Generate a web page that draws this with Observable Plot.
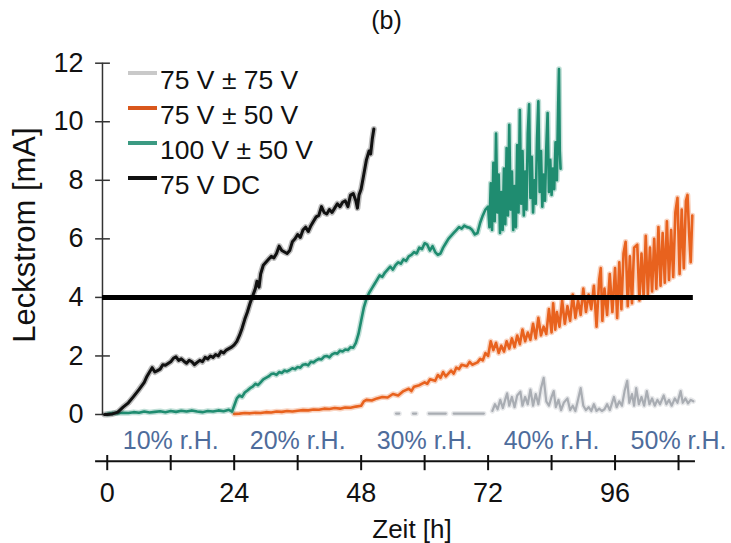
<!DOCTYPE html>
<html><head><meta charset="utf-8">
<script src="https://cdn.jsdelivr.net/npm/d3@7"></script>
<script src="https://cdn.jsdelivr.net/npm/@observablehq/plot@0.6"></script>
<style>body{margin:0;background:#fff} #chart{width:731px;height:543px;}</style>
</head><body><div id="chart"></div>
<script>
// ---- data ----
const title = "(b)";
const yLabel = "Leckstrom [mA]";
const xLabel = "Zeit [h]";
const seriesNames = ["75 V ± 75 V", "75 V ± 50 V", "100 V ± 50 V", "75 V DC"];
const seriesColors = ["#a9adb3", "#e8621e", "#1f8c70", "#111111"];
const legendColors = ["#c9c9c9", "#d9571c", "#3b9a82", "#111111"];
const yTicks = [0, 2, 4, 6, 8, 10, 12];
const xTicks = [0, 12, 24, 36, 48, 60, 72, 84, 96, 108];
const xTickLabels = [0, 24, 48, 72, 96];
const rhLabels = ["10% r.H.", "20% r.H.", "30% r.H.", "40% r.H.", "50% r.H."];
const rhCenters = [12, 36, 60, 84, 108];
const threshold = [4];

// 75 V DC  [t (h), I (mA)]
const dc75 = [[-0.5,0],[0,0],[1,0.02],[2,0.08],[3,0.25],[4,0.4],[5,0.62],[6,0.85],[7,1.1],[7.5,1.3],[8,1.45],[8.5,1.6],[9,1.45],[9.5,1.5],[10,1.55],[10.5,1.7],[11,1.68],[12,1.8],[12.5,1.92],[13,1.97],[13.5,1.85],[14,1.9],[14.5,1.82],[15,1.75],[15.5,1.85],[16,1.8],[16.5,1.7],[17,1.78],[17.5,1.85],[18,1.8],[18.5,1.95],[19,1.9],[19.5,2.0],[20,1.95],[20.5,2.05],[21,2.0],[21.5,2.15],[22,2.1],[22.5,2.2],[23,2.25],[23.5,2.3],[24,2.38],[24.5,2.5],[25,2.7],[25.5,2.95],[26,3.25],[26.5,3.5],[27,3.8],[27.5,4.05],[28,4.3],[28.3,4.55],[28.7,4.35],[29,4.8],[29.5,5.1],[30,5.2],[30.5,5.3],[31,5.4],[31.5,5.35],[32,5.5],[32.5,5.75],[33,5.6],[33.5,5.55],[34,5.5],[34.5,5.6],[35,5.9],[35.5,6.0],[36,6.15],[36.5,6.05],[37,6.3],[37.5,6.4],[38,6.25],[38.5,6.45],[39,6.6],[39.5,6.75],[40,6.8],[40.5,7.1],[41,6.9],[41.5,6.85],[42,7.0],[42.5,6.9],[43,7.05],[43.5,7.2],[44,7.1],[44.5,7.25],[45,7.3],[45.5,7.1],[46,7.5],[46.5,7.55],[47,7.3],[47.3,7.05],[47.6,7.5],[48,7.7],[48.5,8.2],[49,8.7],[49.5,9.0],[49.8,8.9],[50.1,9.4],[50.4,9.75]];

// 100 V ± 50 V
const ac100_50 = [[0,0.02],[1,0.05],[2,0.04],[3,0.06],[4,0.05],[5,0.08],[6,0.06],[7,0.1],[8,0.07],[9,0.09],[10,0.11],[11,0.08],[12,0.12],[13,0.09],[14,0.13],[15,0.1],[16,0.14],[17,0.1],[18,0.08],[19,0.12],[20,0.1],[21,0.14],[22,0.11],[23,0.16],[23.6,0.1],[24,0.3],[24.5,0.55],[25,0.65],[25.5,0.6],[26,0.75],[26.5,0.82],[27,0.9],[27.5,0.95],[28,1.05],[28.5,1.0],[29,1.1],[29.5,1.2],[30,1.25],[30.5,1.3],[31,1.38],[31.5,1.4],[32,1.35],[32.5,1.45],[33,1.42],[33.5,1.5],[34,1.47],[34.5,1.52],[35,1.58],[35.5,1.55],[36,1.62],[36.5,1.6],[37,1.7],[37.5,1.72],[38,1.68],[38.5,1.8],[39,1.78],[39.5,1.85],[40,1.9],[40.5,1.88],[41,1.98],[41.5,2.0],[42,1.95],[42.5,2.05],[43,2.1],[43.5,2.08],[44,2.18],[44.5,2.15],[45,2.22],[45.5,2.2],[46,2.3],[46.5,2.28],[47,2.45],[47.5,2.75],[48,3.2],[48.5,3.65],[49,3.95],[49.5,4.15],[50,4.3],[50.5,4.45],[51,4.6],[51.5,4.75],[52,4.7],[52.5,4.85],[53,4.95],[53.5,5.05],[54,4.95],[54.5,5.1],[55,5.2],[55.5,5.15],[56,5.3],[56.5,5.25],[57,5.4],[57.5,5.45],[58,5.55],[58.5,5.5],[59,5.7],[59.5,5.65],[60,5.85],[60.5,5.8],[61,5.6],[61.5,5.75],[62,5.55],[62.5,5.45],[63,5.5],[63.5,5.7],[64,5.85],[64.5,6.0],[65,6.1],[65.5,6.2],[66,6.3],[66.5,6.4],[67,6.35],[67.5,6.45],[68,6.4],[68.5,6.38],[69,6.3],[69.5,6.15],[70,6.2],[70.5,6.55],[71,6.8],[71.5,7.0],
[72,7.1],[72.25,6.4],[72.5,7.9],[72.75,6.3],[73,8.6],[73.25,6.6],[73.5,9.6],[73.75,6.9],[74,8.2],[74.25,6.2],[74.5,7.6],[74.75,6.3],[75,8.4],[75.25,6.5],[75.5,9.1],[75.75,6.8],[76,9.9],[76.25,7.0],[76.5,8.3],[76.75,6.3],[77,7.8],[77.25,6.4],[77.5,9.2],[77.75,6.9],[78,10.4],[78.25,7.2],[78.5,9.0],[78.75,6.8],[79,8.3],[79.25,7.0],[79.5,9.6],[79.75,10.6],[80,7.4],[80.25,8.8],[80.5,6.9],[80.75,8.0],[81,7.2],[81.25,9.4],[81.5,10.7],[81.75,7.6],[82,9.0],[82.25,7.1],[82.5,8.2],[82.75,7.3],[83,9.1],[83.25,10.3],[83.5,7.6],[83.75,8.7],[84,7.5],[84.25,8.4],[84.5,7.7],[84.75,9.3],[85,8.0],[85.25,10.6],[85.4,11.8],[85.55,9.0],[85.7,8.4]];

// 75 V ± 50 V
const ac75_50 = [[24,0.02],[25,0.03],[26,0.05],[27,0.04],[28,0.06],[29,0.05],[30,0.08],[31,0.07],[32,0.1],[33,0.09],[34,0.12],[35,0.1],[36,0.13],[37,0.15],[38,0.14],[39,0.17],[40,0.16],[41,0.2],[42,0.19],[43,0.22],[44,0.2],[45,0.24],[46,0.23],[47,0.27],[48,0.3],[48.5,0.45],[49,0.5],[50,0.48],[51,0.55],[52,0.6],[53,0.58],[54,0.7],[55,0.65],[56,0.8],[57,0.88],[57.5,0.8],[58,0.95],[59,1.0],[60,1.1],[60.5,1.05],[61,1.2],[62,1.15],[62.5,1.35],[63,1.25],[63.5,1.45],[64,1.3],[65,1.5],[65.5,1.4],[66,1.6],[66.5,1.55],[67,1.7],[68,1.65],[68.5,1.8],[69,1.7],[70,1.78],[70.5,1.9],[71,1.85],[71.5,2.1],[72,2.0],[72.5,2.5],[73,2.2],[73.5,2.45],[74,2.1],[74.5,2.35],[75,2.15],[75.5,2.5],[76,2.25],[76.5,2.6],[77,2.3],[77.5,2.7],[78,2.4],[78.5,2.9],[79,2.5],[79.5,2.8],[80,2.55],[80.5,3.1],[81,2.6],[81.5,3.3],[82,2.7],[82.5,3.0],[83,2.75],[83.5,3.6],[84,2.8],[84.3,3.8],[84.7,2.9],[85,3.5],[85.5,3.0],[86,3.9],[86.5,3.1],[87,3.7],[87.5,3.2],[88,4.1],[88.5,3.3],[89,3.9],[89.5,3.4],[90,4.3],[90.5,3.5],[91,4.1],[91.5,3.6],[92,4.4],[92.5,3.0],[93,4.6],[93.3,5.0],[93.6,3.2],[94,4.3],[94.5,3.4],[95,4.8],[95.5,3.5],[96,5.0],[96.4,3.3],[96.8,5.2],[97.2,3.6],[97.6,5.5],[98,5.9],[98.4,3.7],[98.8,5.4],[99.2,3.8],[99.6,5.7],[100.2,5.8],[100.6,3.9],[101,5.5],[101.4,4.0],[101.8,6.1],[102.2,4.1],[102.6,5.7],[103,4.2],[103.4,6.0],[103.8,4.3],[104.2,6.4],[104.6,4.4],[105,6.2],[105.4,4.5],[105.8,6.6],[106.2,4.6],[106.6,6.3],[107,4.7],[107.4,6.9],[107.8,7.4],[108.2,4.8],[108.6,7.0],[109,5.0],[109.4,7.3],[109.7,7.5],[110,6.2],[110.3,5.2],[110.6,6.8]];

// 75 V ± 75 V (NaN = gap between the short dashes)
const ac75_75 = [[54.6,0.03],[55.2,0.03],[55.5,NaN],[57.8,0.03],[58.4,0.03],[58.7,NaN],[60.8,0.03],[64,0.03],[64.5,NaN],[65.5,0.03],[71.2,0.03],[71.8,NaN],
[72.8,0.12],[73.3,0.35],[73.8,0.18],[74.3,0.5],[74.8,0.22],[75.3,0.55],[75.6,0.72],[76,0.3],[76.5,0.6],[77,0.25],[77.5,0.65],[78.1,0.78],[78.5,0.3],[79,0.6],[79.5,0.35],[80,0.85],[80.5,0.3],[81,0.7],[81.5,0.35],[82,0.9],[82.5,1.25],[83,0.45],[83.5,0.3],[84,0.6],[84.4,0.8],[84.8,0.25],[85.3,0.5],[85.8,0.15],[86.3,0.4],[87,0.55],[87.5,0.15],[88,0.3],[88.5,0.12],[89,0.5],[89.5,0.9],[90,0.3],[90.5,0.15],[91,0.25],[91.5,0.12],[92,0.35],[92.5,0.12],[93,0.2],[93.5,0.12],[94,0.18],[94.5,0.35],[95,0.15],[95.8,0.6],[96.3,0.25],[96.8,0.45],[97.3,0.3],[97.8,0.8],[98.3,1.15],[98.7,0.4],[99.2,0.7],[99.6,0.3],[100,0.9],[100.5,0.35],[101,0.6],[101.5,0.3],[102,0.8],[102.5,0.35],[103,0.55],[103.5,0.3],[104,0.5],[104.5,0.35],[105.2,0.65],[105.7,0.35],[106.2,0.5],[106.7,0.3],[107.3,0.55],[107.8,0.4],[108.4,0.8],[108.8,0.4],[109.3,0.55],[109.8,0.38],[110.3,0.5],[110.8,0.45]];

const seriesData = [ac75_75, ac75_50, ac100_50, dc75];
const seriesWidths = [2.2, 2.6, 2.6, 3];

// ---- layout constants ----
const Y_AXIS_T = -0.9;      // hours position of the vertical axis
const X_AXIS_V = -1.6;      // mA position of the detached time axis
const FONT = "Liberation Sans, Arial, Helvetica, sans-serif";

const rows = seriesData.flatMap((pts, i) => pts.map(([t, v]) => ({s: seriesNames[i], t, v})));

const lineMarks = seriesData.flatMap((pts, i) => {
  const data = rows.filter(d => d.s === seriesNames[i]);
  return [
    Plot.line(data, {x: "t", y: "v", stroke: seriesColors[i], strokeWidth: seriesWidths[i] + 3,
      strokeOpacity: 0.28, strokeLinejoin: "round", strokeLinecap: "round"}),
    Plot.line(data, {x: "t", y: "v", stroke: seriesColors[i], strokeWidth: seriesWidths[i],
      strokeLinejoin: "round", strokeLinecap: "round"})
  ];
});

const plot = Plot.plot({
  width: 731, height: 543,
  marginLeft: 95.1, marginRight: 37.1, marginTop: 0, marginBottom: 0,
  style: {fontFamily: FONT, background: "white", overflow: "visible"},
  x: {domain: [-2.2, 111], range: [95.1, 693.9], axis: null},
  y: {domain: [0, 12], range: [414, 62.7], axis: null},
  marks: [
    // vertical axis
    Plot.ruleX([Y_AXIS_T], {y1: 0, y2: 12, stroke: "#333", strokeWidth: 1.5}),
    Plot.ruleY(yTicks, {y: d => d, x1: Y_AXIS_T - 1.3, x2: Y_AXIS_T + 1.5, stroke: "#333", strokeWidth: 1.5}),
    Plot.text(yTicks, {x: Y_AXIS_T, y: d => d, text: d => String(d), dx: -19, textAnchor: "end", fontSize: 27, fill: "#111"}),
    // series
    ...lineMarks,
    // 4 mA limit
    Plot.ruleY(threshold, {x1: Y_AXIS_T, x2: 110.8, stroke: "#000", strokeWidth: 5}),
    // humidity labels
    Plot.text(rhLabels, {x: (d, i) => rhCenters[i], y: 0, dy: 26, text: d => d, fontSize: 25, fill: "#4e6c9b"}),
    // time axis
    Plot.ruleY([X_AXIS_V], {x1: -2.2, x2: 111.2, stroke: "#111", strokeWidth: 2}),
    Plot.ruleX(xTicks, {x: d => d, y1: X_AXIS_V + 0.2, y2: X_AXIS_V - 0.32, stroke: "#111", strokeWidth: 2}),
    Plot.text(xTickLabels, {x: d => d, y: X_AXIS_V, dy: 32, text: d => String(d), fontSize: 27, fill: "#111"}),
    Plot.text([xLabel], {frameAnchor: "bottom", lineAnchor: "middle", dx: 17, dy: -14, fontSize: 26, fill: "#111"}),
    Plot.text([title], {frameAnchor: "top", lineAnchor: "middle", dx: -8.5, dy: 20, fontSize: 25, fill: "#111"})
  ]
});

const svg = d3.select(plot);
// rotated y-axis title
svg.append("text")
  .attr("transform", "translate(35,235) rotate(-90)")
  .attr("text-anchor", "middle")
  .attr("font-family", FONT).attr("font-size", 31).attr("fill", "#111")
  .text(yLabel);

// legend inside the plot area
const lg = svg.append("g").attr("font-family", FONT).attr("font-size", 26.5)
  .attr("fill", "#111").attr("text-anchor", "start");
seriesNames.forEach((name, i) => {
  const ly = 73 + i * 35;
  lg.append("line").attr("x1", 128).attr("x2", 157).attr("y1", ly).attr("y2", ly)
    .attr("stroke", legendColors[i]).attr("stroke-width", 4);
  lg.append("text").attr("x", 160).attr("y", ly + 16).attr("text-anchor", "start").text(name);
});

document.getElementById("chart").appendChild(plot);
</script>
</body></html>
